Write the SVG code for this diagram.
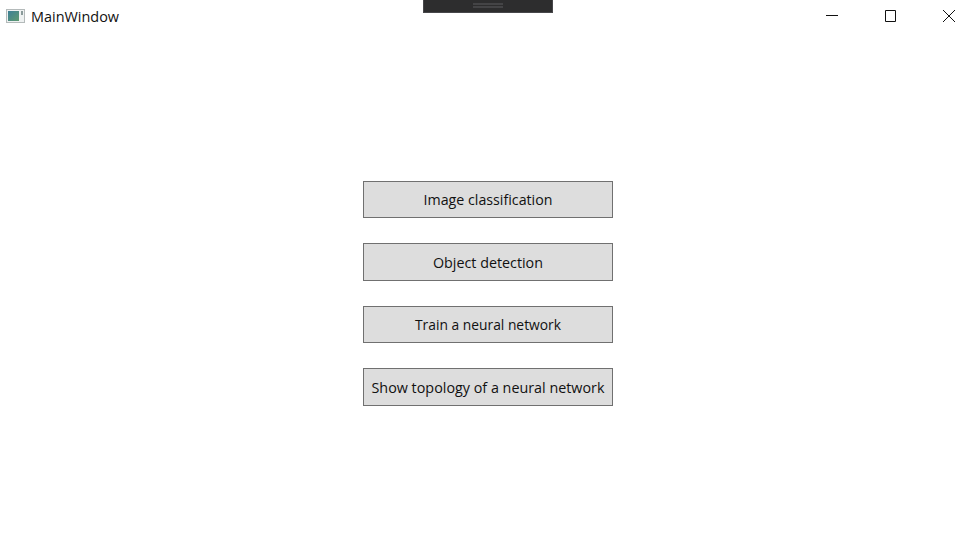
<svg xmlns="http://www.w3.org/2000/svg" width="977" height="550" viewBox="0 0 977 550">
<style>
text{font-family:"Open Sans","Noto Sans","Liberation Sans",sans-serif;font-size:15px;fill:#111}
.btn rect{fill:#dddddd;stroke:#707070;stroke-width:1}
.btn text{text-anchor:middle}
.ctl{fill:none;stroke:#111;stroke-width:1}
</style>
<defs><linearGradient id="ico" x1="0" y1="0" x2="1" y2="1"><stop offset="0" stop-color="#3c7f96"/><stop offset="1" stop-color="#5f9a70"/></linearGradient></defs>
<rect width="977" height="550" fill="#fff"/>
<g id="titlebar">
<rect x="6.500" y="9.500" width="18" height="13" fill="#eef1f1" stroke="#b4baba"/>
<rect x="8" y="11" width="11" height="10" fill="url(#ico)"/>
<rect x="21" y="11" width="2" height="4" fill="#8a9a9a"/>
<text x="31" y="22" textLength="88" lengthAdjust="spacingAndGlyphs">MainWindow</text>
<path class="ctl" d="M826 15.500H838M885.500 10.500H895.500V21.500H885.500ZM943 10L955 22M955 10L943 22"/>
</g>
<g id="toolbar">
<rect x="423.500" y="-1" width="129" height="13.500" fill="#2d2d2e" stroke="#47474a"/>
<path d="M473 4H503M473 7H503" stroke="#4c4c4f" stroke-width="1.500" fill="none"/>
</g>
<g id="btn-image" class="btn"><rect x="363.500" y="181.500" width="249" height="36"/><text x="488" y="205" textLength="129" lengthAdjust="spacingAndGlyphs">Image classification</text></g>
<g id="btn-object" class="btn"><rect x="363.500" y="243.500" width="249" height="37"/><text x="488" y="268" textLength="110" lengthAdjust="spacingAndGlyphs">Object detection</text></g>
<g id="btn-train" class="btn"><rect x="363.500" y="306.500" width="249" height="36"/><text x="488" y="330" textLength="146" lengthAdjust="spacingAndGlyphs">Train a neural network</text></g>
<g id="btn-topology" class="btn"><rect x="363.500" y="368.500" width="249" height="37"/><text x="488" y="393" textLength="233" lengthAdjust="spacingAndGlyphs">Show topology of a neural network</text></g>
</svg>
